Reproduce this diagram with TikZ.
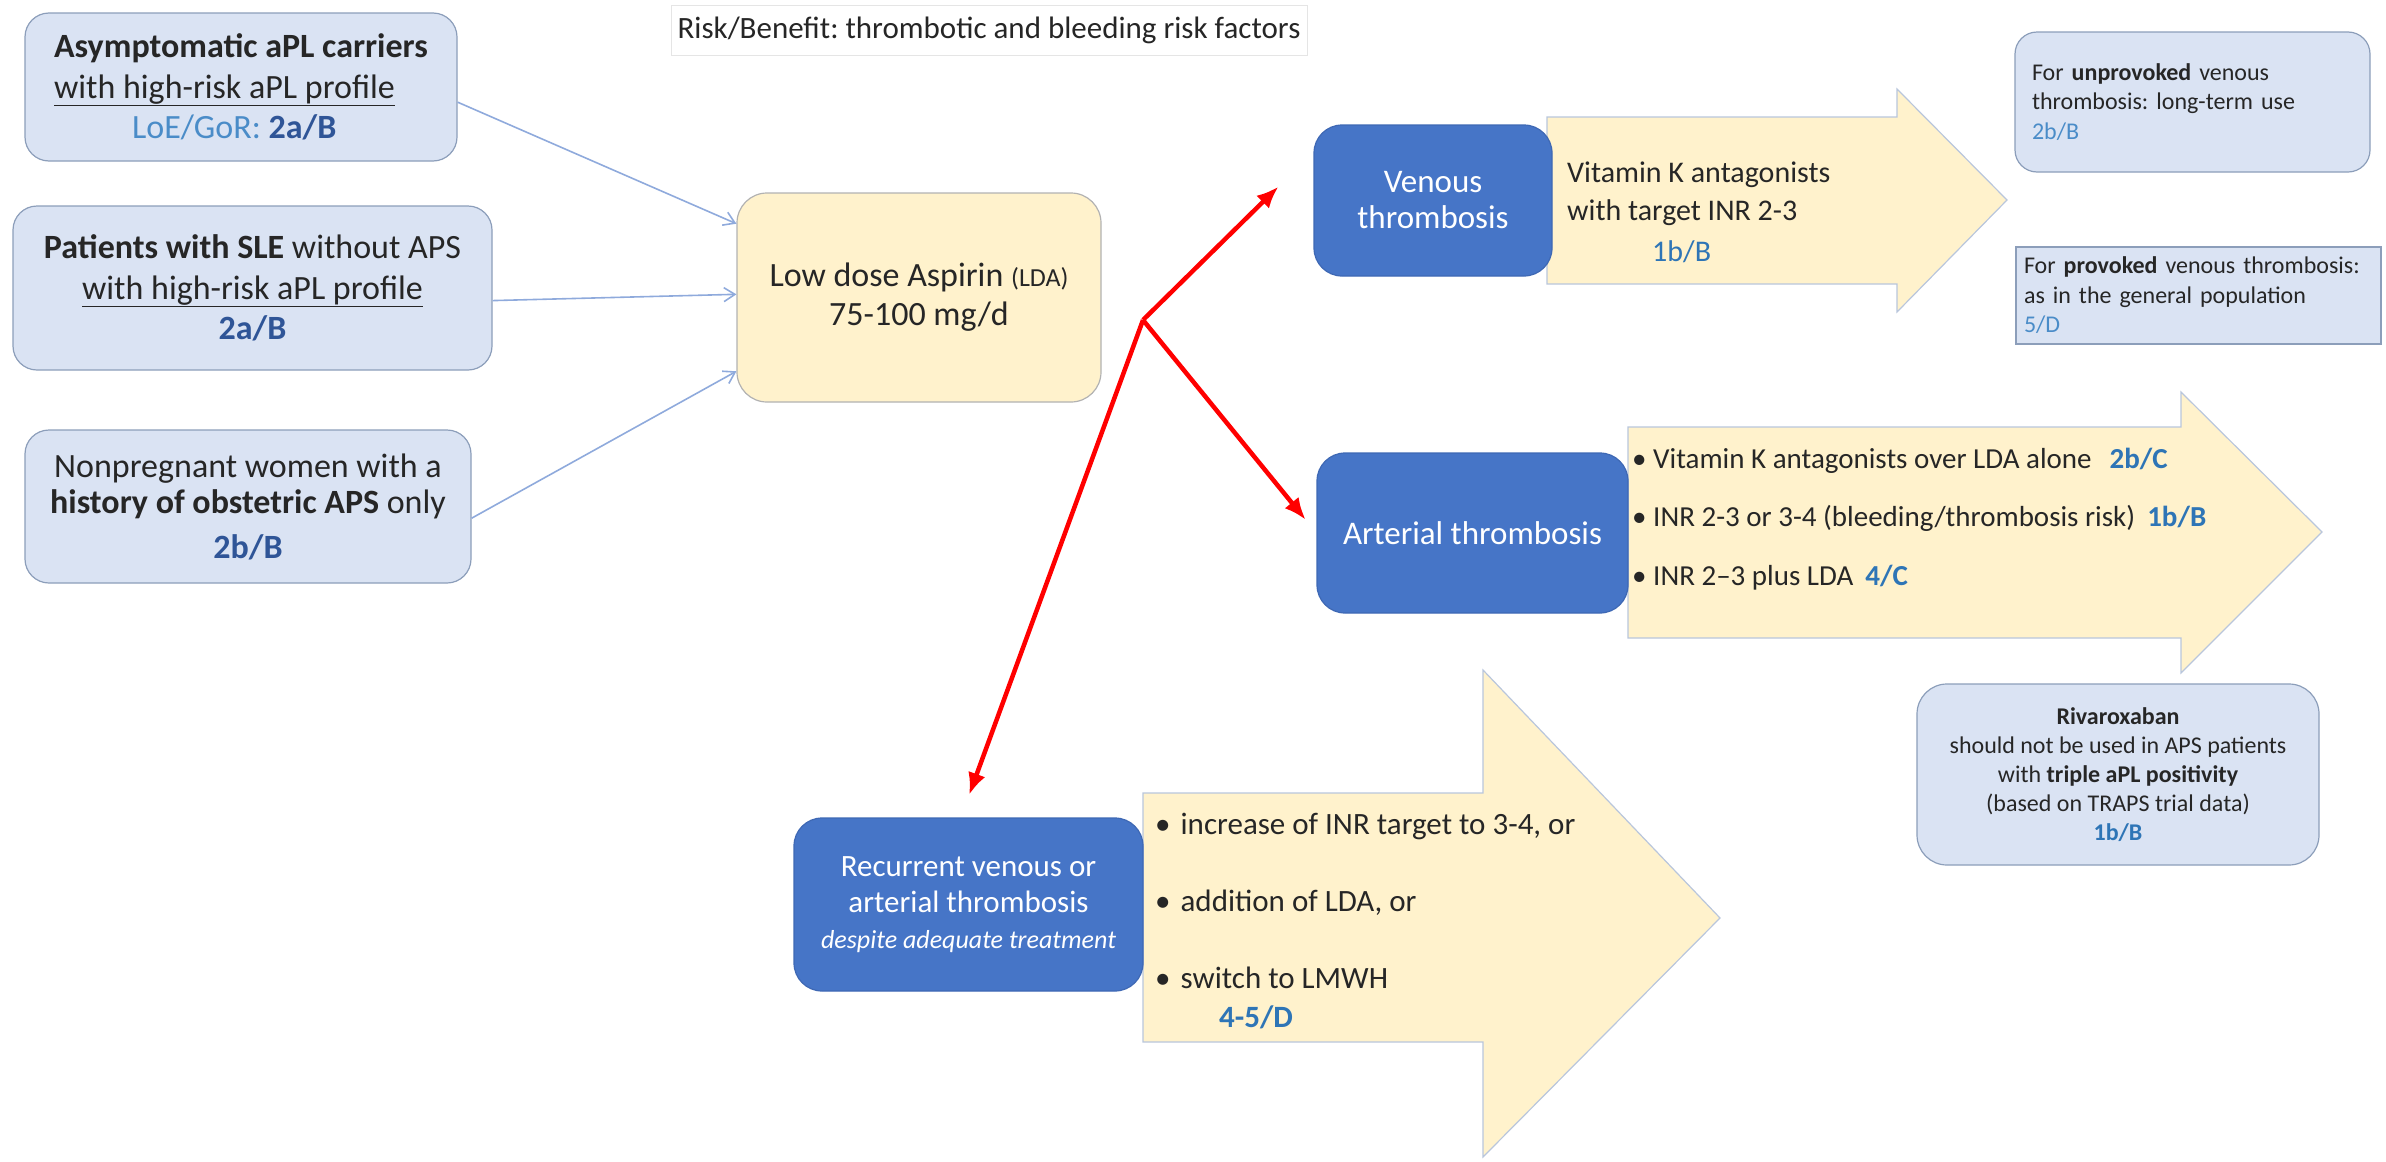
\documentclass[tikz,border=0pt]{standalone}
\usepackage{fontspec}
\setmainfont{Carlito}
\frenchspacing
\usetikzlibrary{arrows.meta}
\definecolor{lightfill}{RGB}{218,227,243}
\definecolor{lightedge}{RGB}{140,158,186}
\definecolor{darkfill}{RGB}{70,117,199}
\definecolor{darkedge}{RGB}{62,104,180}
\definecolor{yellowfill}{RGB}{255,242,204}
\definecolor{yellowedge}{RGB}{185,198,220}
\definecolor{connblue}{RGB}{143,170,220}
\definecolor{gradedark}{RGB}{47,85,151}
\definecolor{gradeblue}{RGB}{46,117,182}
\definecolor{gradelight}{RGB}{74,140,200}
\tikzset{
 lbox/.style={draw=lightedge, fill=lightfill, line width=1.2pt, rounded corners=24pt, inner sep=0pt, align=center, text=black!85, font=\fontsize{34}{40.5}\selectfont},
 dbox/.style={draw=darkedge, fill=darkfill, line width=1.2pt, rounded corners=28pt, inner sep=0pt, align=center, text=white, font=\fontsize{33}{36}\selectfont},
 notebox/.style={draw=lightedge, fill=lightfill, line width=1.2pt, inner sep=0pt, text=black!85, font=\fontsize{24}{29.5}\selectfont},
 arrowbox/.style={fill=yellowfill, draw=yellowedge, line width=1.2pt},
 arrowtext/.style={inner sep=0pt, anchor=west, align=left, text=black!85},
 conn/.style={draw=connblue, line width=1.6pt, -{Straight Barb[length=11pt,width=14pt]}},
 redarrow/.style={draw=red, line width=4.5pt, -{Latex[length=22pt,width=18pt]}}
}
\begin{document}
\begin{tikzpicture}[x=1pt,y=-1pt]
\useasboundingbox (0,0) rectangle (2386,1162);
\foreach \xa/\ya/\yb/\xb/\yc/\yd/\xt/\yt in {1547/117/284/1897/89/312/2007/200, 1628/427/638/2181/392/673/2322/532, 1143/793/1042/1483/670/1157/1720/918} {
 \filldraw[arrowbox] (\xa,\ya) -- (\xb,\ya) -- (\xb,\yc) -- (\xt,\yt) -- (\xb,\yd) -- (\xb,\yb) -- (\xa,\yb) -- cycle;
}
\node[draw=black!10, fill=white, inner sep=0pt, minimum width=636pt, minimum height=50pt, text=black!85, font=\fontsize{31}{34}\selectfont] (title) at (989,30) {Risk/Benefit: thrombotic and bleeding risk factors};
\node[lbox, minimum width=432pt, minimum height=148pt, align=left] (asym) at (241,87) {\textbf{Asymptomatic aPL carriers}\\\underline{with high-risk aPL profile}\\\hspace*{78pt}\textcolor{gradelight}{LoE/GoR: }\textcolor{gradedark}{\bfseries 2a/B}};
\node[lbox, minimum width=479pt, minimum height=164pt] (sle) at (252.5,288) {\textbf{Patients with SLE} without APS\\\underline{with high-risk aPL profile}\\\textcolor{gradedark}{\bfseries 2a/B}};
\node[lbox, minimum width=446pt, minimum height=153pt, font=\fontsize{34}{36}\selectfont] (obst) at (248,506.5) {Nonpregnant women with a\\\textbf{history of obstetric APS} only\\[9pt]\textcolor{gradedark}{\bfseries 2b/B}};
\node[lbox, draw=black!30, fill=yellowfill, rounded corners=30pt, minimum width=364pt, minimum height=209pt, font=\fontsize{34}{39}\selectfont] (lda) at (919,297.5) {Low dose Aspirin {\fontsize{26}{30}\selectfont(LDA)}\\75-100 mg/d};
\node[dbox, minimum width=238pt, minimum height=151pt] (venous) at (1433,200.5) {Venous\\thrombosis};
\node[dbox, minimum width=311pt, minimum height=160pt] (arterial) at (1472.5,533) {Arterial thrombosis};
\node[dbox, minimum width=349pt, minimum height=173pt, font=\fontsize{31}{36}\selectfont] (recurrent) at (968.5,904.5) {Recurrent venous or\\arterial thrombosis\\{\fontsize{26}{36}\selectfont\itshape despite adequate treatment}};
\node[arrowtext, font=\fontsize{30}{38}\selectfont] (vkatext) at (1567,212) {Vitamin K antagonists\\with target INR 2-3\\[3pt]\hspace*{85pt}\textcolor{gradeblue}{1b/B}};
\node[arrowtext, font=\fontsize{29}{58.5}\selectfont] (arttext) at (1632,519) {\textbullet{} Vitamin K antagonists over LDA alone\hspace{18pt}\textcolor{gradeblue}{\bfseries 2b/C}\\\textbullet{} INR 2-3 or 3-4 (bleeding/thrombosis risk)\hspace{12pt}\textcolor{gradeblue}{\bfseries 1b/B}\\\textbullet{} INR 2–3 plus LDA\hspace{12pt}\textcolor{gradeblue}{\bfseries 4/C}};
\node[arrowtext, font=\fontsize{31}{38.5}\selectfont] (rectext) at (1155,921) {\textbullet\hspace{10pt}increase of INR target to 3-4, or\\[38.5pt]\textbullet\hspace{10pt}addition of LDA, or\\[38.5pt]\textbullet\hspace{10pt}switch to LMWH\\\hspace*{64pt}\textcolor{gradeblue}{\bfseries 4-5/D}};
\node[notebox, rounded corners=22pt, minimum width=355pt, minimum height=140pt, text width=321pt, align=left] (unprov) at (2192.5,102) {For \textbf{unprovoked} venous\\thrombosis: long-term use\\\textcolor{gradelight}{2b/B}};
\node[notebox, minimum width=365pt, minimum height=97pt, text width=349pt, align=left] (prov) at (2198.5,295.5) {For \textbf{provoked} venous thrombosis:\\as in the general population\\\textcolor{gradelight}{5/D}};
\node[notebox, rounded corners=30pt, minimum width=402pt, minimum height=181pt, align=center, font=\fontsize{24}{29}\selectfont] (rivaro) at (2118,774.5) {\textbf{Rivaroxaban}\\should not be used in APS patients\\with \textbf{triple aPL positivity}\\(based on TRAPS trial data)\\\textcolor{gradeblue}{\bfseries 1b/B}};
\draw[conn] (asym.-4) -- (lda.158.6);
\draw[conn] (sle.-3.6) -- (lda.179.5);
\draw[conn] (obst.-3) -- (lda.-158);
\coordinate (fork) at (1143,320);
\draw[redarrow, shorten >=49pt] (fork) -- (venous.158.7);
\draw[redarrow, shorten >=17pt] (fork) -- (arterial.west);
\draw[redarrow, shorten >=24pt] (fork) -- (recurrent.95);
\end{tikzpicture}
\end{document}
